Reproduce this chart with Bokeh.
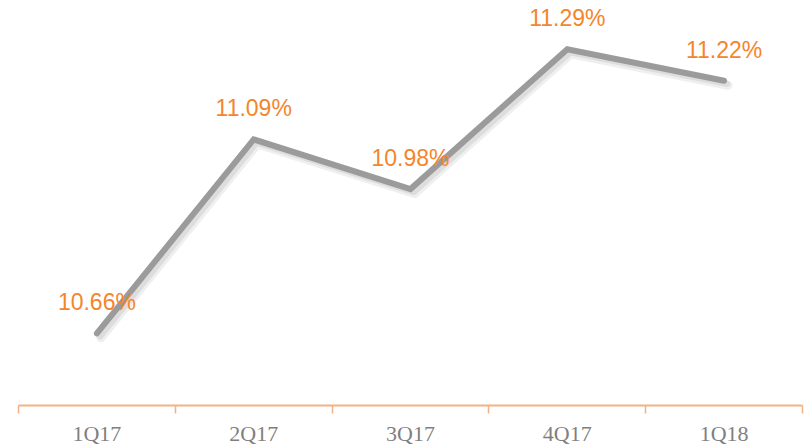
from bokeh.plotting import figure
from bokeh.models import ColumnDataSource, Range1d, FixedTicker
from bokeh.transform import dodge
from bokeh.embed import file_html
from bokeh.resources import INLINE

quarters = ["1Q17", "2Q17", "3Q17", "4Q17", "1Q18"]
ratios = [10.66, 11.09, 10.98, 11.29, 11.22]
labels = ["10.66%", "11.09%", "10.98%", "11.29%", "11.22%"]

xpos = [i + 0.5 for i in range(len(quarters))]
src = ColumnDataSource(dict(x=xpos, y=ratios, lab=labels))

p = figure(width=805, height=448, output_backend="svg", toolbar_location=None,
           x_range=Range1d(0, len(quarters)), y_range=Range1d(10.50, 11.398),
           min_border_left=18, min_border_right=3, min_border_top=0, min_border_bottom=43)
p.outline_line_color = None
p.grid.visible = False
p.yaxis.visible = False
p.background_fill_color = "white"
p.border_fill_color = "white"

# soft shadow
p.line(x=dodge("x", 0.025, range=p.x_range), y=dodge("y", -0.010, range=p.y_range), source=src,
       line_width=9, line_color="#d0d0d0", line_alpha=0.35, line_join="round", line_cap="round")
p.line(x=dodge("x", 0.02, range=p.x_range), y=dodge("y", -0.007, range=p.y_range), source=src,
       line_width=6, line_color="#c8c8c8", line_alpha=0.45, line_join="round", line_cap="round")
p.line(x="x", y="y", source=src, line_width=6, line_color="#9b9b9b",
       line_join="miter", line_cap="round")

p.text(x="x", y="y", text="lab", source=src, text_color="#F5852A",
       text_font_size="23px", text_font={"value": "Liberation Sans"},
       text_align="center", text_baseline="middle", y_offset=-31)

ax = p.xaxis[0]
ax.ticker = FixedTicker(ticks=xpos, minor_ticks=list(range(len(quarters) + 1)))
ax.major_label_overrides = {x: q for x, q in zip(xpos, quarters)}
ax.axis_line_color = "#F4B183"
ax.axis_line_width = 2
ax.major_tick_line_color = None
ax.major_tick_out = 0
ax.major_tick_in = 0
ax.minor_tick_line_color = "#F4B183"
ax.minor_tick_line_width = 1.5
ax.minor_tick_out = 8
ax.minor_tick_in = 0
ax.major_label_standoff = 7
ax.major_label_text_font = "Liberation Serif"
ax.major_label_text_font_size = "22px"
ax.major_label_text_color = "#7f7f7f"

open("out.html", "w").write(file_html(p, INLINE))
